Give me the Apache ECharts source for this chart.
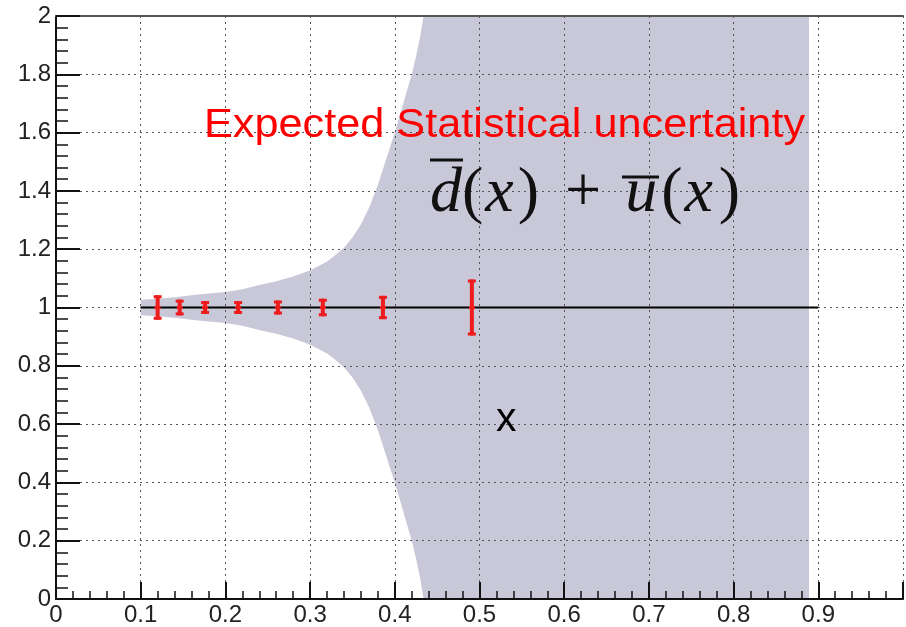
<!DOCTYPE html>
<html>
<head>
<meta charset="utf-8">
<script src="https://cdn.jsdelivr.net/npm/echarts@6/dist/echarts.min.js"></script>
<style>
html,body{margin:0;padding:0;background:#fff;}
#main{width:906px;height:627px;}
</style>
</head>
<body>
<div id="main"></div>
<script>
// ---- data ----
var bandX     = [0.10, 0.12, 0.14, 0.16, 0.18, 0.20, 0.22, 0.24, 0.26, 0.28, 0.30, 0.31, 0.32, 0.33, 0.34, 0.35, 0.36, 0.37, 0.38, 0.39, 0.40, 0.41, 0.42, 0.425, 0.43, 0.434, 0.889];
var bandUpper = [1.027, 1.030, 1.035, 1.042, 1.048, 1.053, 1.063, 1.077, 1.090, 1.106, 1.128, 1.142, 1.158, 1.180, 1.205, 1.240, 1.285, 1.345, 1.420, 1.510, 1.600, 1.700, 1.800, 1.860, 1.930, 2.000, 2.000];
var bandLower = [0.973, 0.970, 0.965, 0.958, 0.952, 0.947, 0.937, 0.923, 0.910, 0.894, 0.872, 0.858, 0.842, 0.820, 0.795, 0.760, 0.715, 0.655, 0.580, 0.490, 0.400, 0.300, 0.200, 0.140, 0.070, 0.000, 0.000];

var pointX   = [0.120, 0.146, 0.176, 0.215, 0.262, 0.315, 0.386, 0.491];
var pointY   = [1, 1, 1, 1, 1, 1, 1, 1];
var pointErr = [0.042, 0.027, 0.022, 0.022, 0.024, 0.030, 0.040, 0.096];

var refLineX = [0.1, 0.9];
var refLineY = [1, 1];

var xTicks = ['0', '0.1', '0.2', '0.3', '0.4', '0.5', '0.6', '0.7', '0.8', '0.9'];

// ---- build ----
var chart = echarts.init(document.getElementById('main'), null, {renderer: 'canvas'});

var bandData = bandX.map(function (x, i) { return [x, bandLower[i], bandUpper[i]]; });
var refData  = refLineX.map(function (x, i) { return [x, refLineY[i]]; });
var errData  = pointX.map(function (x, i) { return [x, pointY[i], pointErr[i]]; });

var gridLine = {show: true, lineStyle: {color: '#555', width: 1, type: [2, 4]}};
var labelFont = 'Liberation Sans, Arial, sans-serif';
var mathFont = 'Liberation Serif, DejaVu Serif, serif';

var option = {
  animation: false,
  backgroundColor: '#fff',
  grid: {left: 56, top: 16, width: 855, height: 583, containLabel: false},
  xAxis: [{
    type: 'value', min: 0, max: 1, interval: 0.1, z: 5,
    axisLine: {show: true, onZero: false, lineStyle: {color: '#111', width: 2}},
    axisTick: {show: true, inside: true, length: 17, lineStyle: {color: '#111', width: 2}},
    minorTick: {show: true, splitNumber: 5, length: 8, lineStyle: {color: '#111', width: 1.5}},
    splitLine: gridLine,
    axisLabel: {
      fontSize: 24, color: '#222', margin: 4, fontFamily: labelFont,
      formatter: function (v) {
        var idx = Math.round(v * 10);
        return idx < xTicks.length ? xTicks[idx] : '';
      }
    }
  }, {
    type: 'value', min: 0, max: 1, position: 'top', z: 5,
    axisLine: {show: true, onZero: false, lineStyle: {color: '#555', width: 2}},
    axisTick: {show: false}, axisLabel: {show: false}, splitLine: {show: false}
  }],
  yAxis: [{
    type: 'value', min: 0, max: 2, interval: 0.2, z: 5,
    axisLine: {show: true, onZero: false, lineStyle: {color: '#111', width: 2}},
    axisTick: {show: true, inside: true, length: 24, lineStyle: {color: '#111', width: 2}},
    minorTick: {show: true, splitNumber: 5, length: 12, lineStyle: {color: '#111', width: 1.5}},
    splitLine: gridLine,
    axisLabel: {
      fontSize: 24, color: '#222', margin: 5, fontFamily: labelFont,
      formatter: function (v) { return String(Math.round(v * 10) / 10); }
    }
  }],
  series: [
    {
      type: 'custom', name: 'band', data: bandData, z: 1, clip: true, silent: true,
      renderItem: function (params, api) {
        if (params.dataIndex !== 0) { return null; }
        var pts = [];
        var i;
        for (i = 0; i < bandData.length; i++) {
          pts.push(api.coord([bandData[i][0], bandData[i][2]]));
        }
        for (i = bandData.length - 1; i >= 0; i--) {
          pts.push(api.coord([bandData[i][0], bandData[i][1]]));
        }
        return {type: 'polygon', shape: {points: pts}, style: {fill: '#c8c8d9', stroke: null}};
      }
    },
    {
      type: 'line', name: 'ref', data: refData, z: 10,
      symbol: 'none', lineStyle: {color: '#000', width: 2}, silent: true
    },
    {
      type: 'custom', name: 'errors', data: errData, z: 11,
      renderItem: function (params, api) {
        var x = api.value(0), y = api.value(1), e = api.value(2);
        var top = api.coord([x, y + e]);
        var bot = api.coord([x, y - e]);
        var c = api.coord([x, y]);
        var red = '#ee1c1c';
        return {
          type: 'group',
          children: [
            {type: 'line', shape: {x1: top[0], y1: top[1], x2: bot[0], y2: bot[1]}, style: {stroke: red, lineWidth: 4}},
            {type: 'line', shape: {x1: top[0] - 4, y1: top[1] + 1.5, x2: top[0] + 4, y2: top[1] + 1.5}, style: {stroke: red, lineWidth: 3}},
            {type: 'line', shape: {x1: bot[0] - 4, y1: bot[1] - 1.5, x2: bot[0] + 4, y2: bot[1] - 1.5}, style: {stroke: red, lineWidth: 3}},
            {type: 'line', shape: {x1: c[0] - 3, y1: c[1], x2: c[0] + 3, y2: c[1]}, style: {stroke: red, lineWidth: 3}}
          ]
        };
      }
    }
  ],
  graphic: [
    {
      type: 'text', left: 204, top: 105, z: 20, scaleX: 1.055,
      style: {
        text: 'Expected Statistical uncertainty',
        fill: '#ff0000', fontSize: 41, fontFamily: labelFont
      }
    },
    {
      type: 'text', left: 430, top: 162, z: 20,
      style: {
        text: '{it|d}{rm|(}{itx|x}{rm|)}{op|+}{it|u}{rm2|(}{itx2|x}{rm|)}',
        fill: '#111',
        rich: {
          it: {fontSize: 64, fontStyle: 'italic', fontFamily: mathFont, fill: '#111'},
          itx: {fontSize: 64, fontStyle: 'italic', fontFamily: mathFont, fill: '#111', padding: [0, 4, 0, 2]},
          itx2: {fontSize: 64, fontStyle: 'italic', fontFamily: mathFont, fill: '#111', padding: [0, 6, 0, 2]},
          rm: {fontSize: 64, fontFamily: mathFont, fill: '#111'},
          rm2: {fontSize: 64, fontFamily: mathFont, fill: '#111', padding: [0, 0, 0, 4]},
          op: {fontSize: 64, fontFamily: mathFont, fill: '#111', padding: [0, 24, 0, 26]}
        }
      }
    },
    {type: 'line', z: 20, shape: {x1: 430, y1: 160, x2: 463, y2: 160}, style: {stroke: '#111', lineWidth: 3}},
    {type: 'line', z: 20, shape: {x1: 622, y1: 177, x2: 659, y2: 177}, style: {stroke: '#111', lineWidth: 3}},
    {
      type: 'text', left: 496, top: 399, z: 20,
      style: {text: 'x', fill: '#000', fontSize: 41, fontFamily: labelFont}
    }
  ]
};
chart.setOption(option);
</script>
</body>
</html>
